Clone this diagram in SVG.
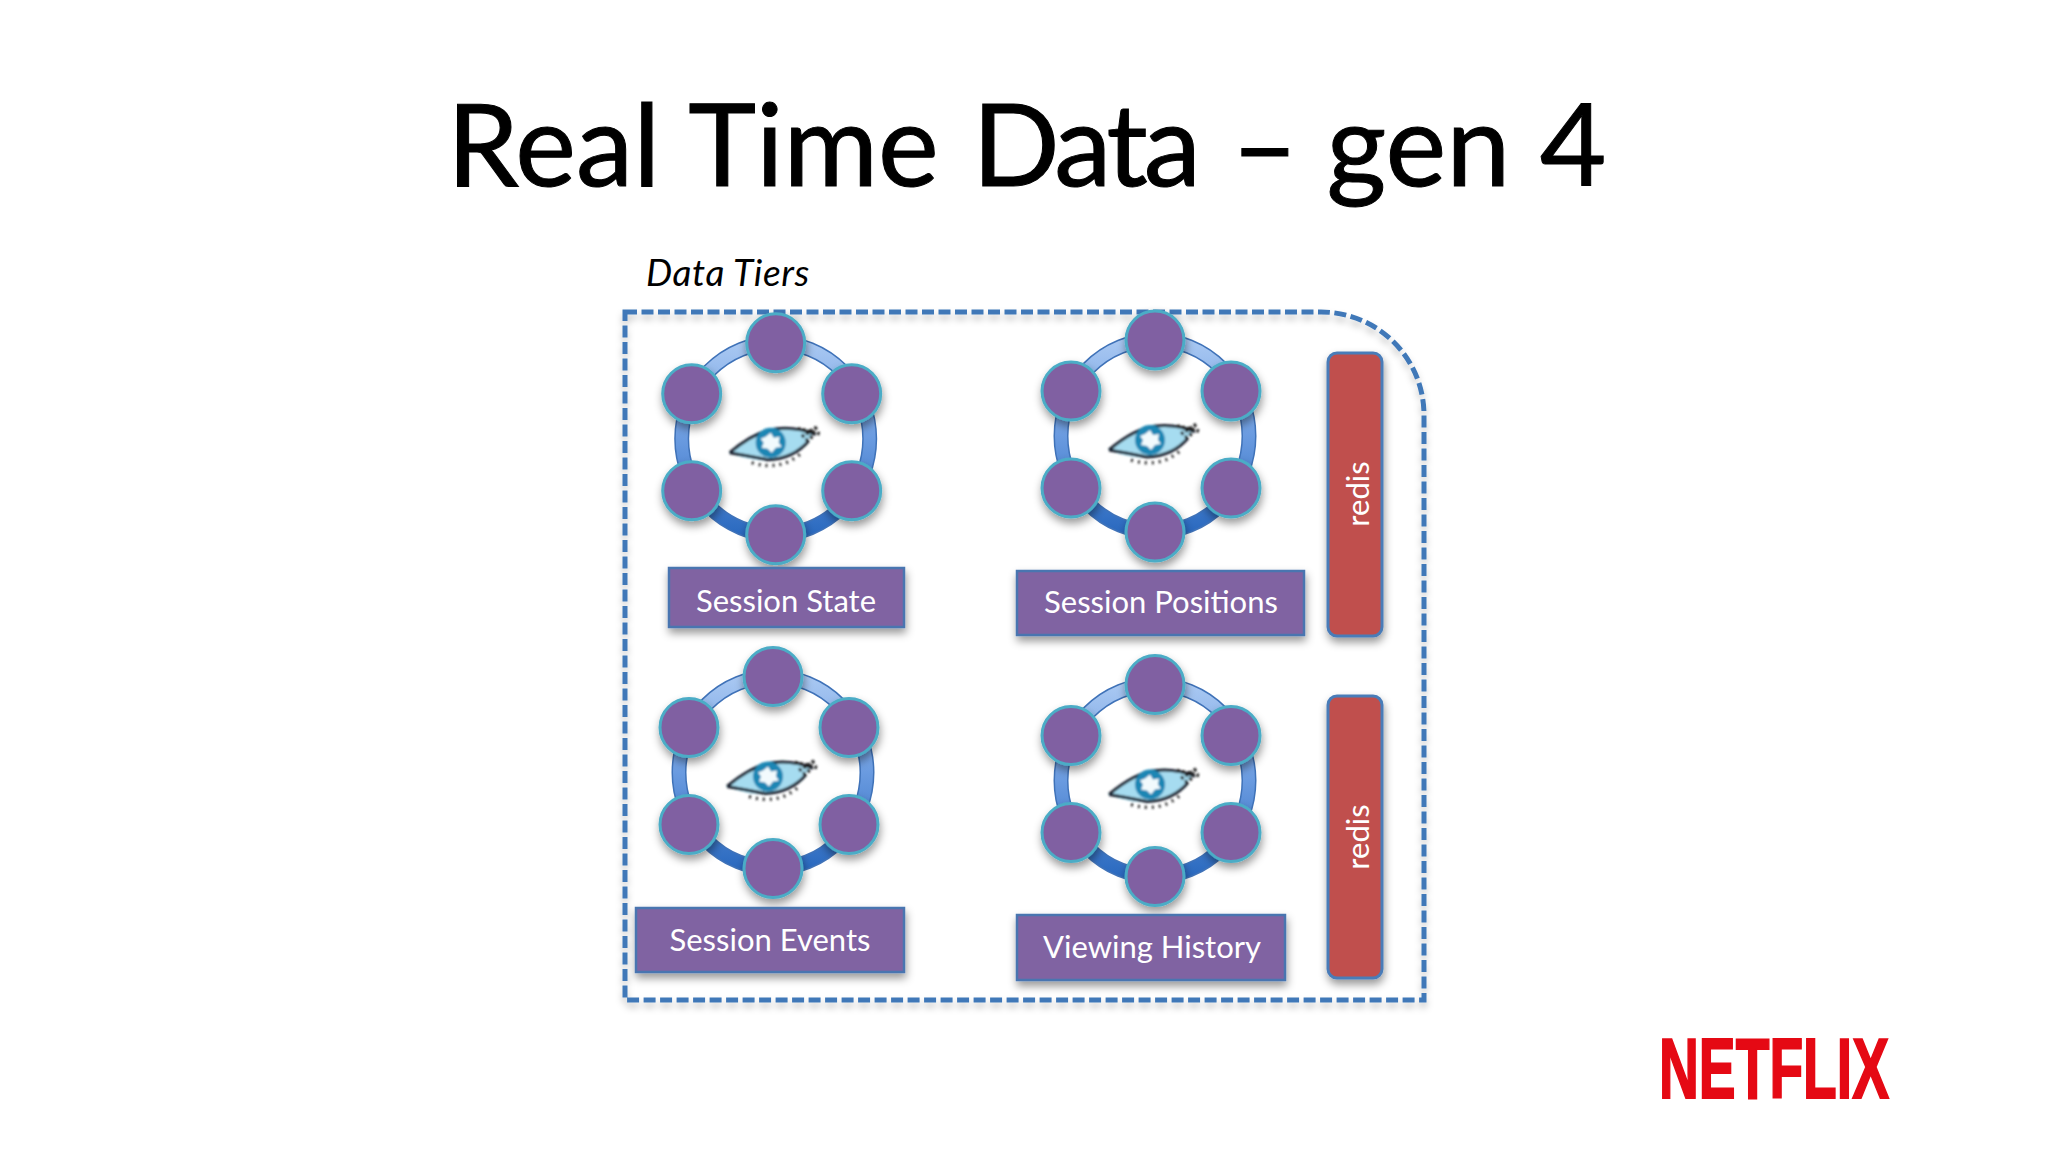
<svg xmlns="http://www.w3.org/2000/svg" xmlns:xlink="http://www.w3.org/1999/xlink" width="2048" height="1152" viewBox="0 0 2048 1152">
<style>
.t{font-family:"Lato","Open Sans","Liberation Sans",sans-serif;}
.lab{font-family:"Lato","Open Sans","Liberation Sans",sans-serif;font-size:31px;fill:#fff;text-anchor:middle;}
.box{fill:#8064a2;stroke:#4a74b0;stroke-width:2.5;filter:url(#sh);}
.red{fill:#c0504d;stroke:#4a7cb8;stroke-width:3;filter:url(#sh);}
.nd{fill:#8060a2;stroke:#4bacc6;stroke-width:3;filter:url(#sh);}
</style>
<defs>
<filter id="sh" x="-30%" y="-30%" width="160%" height="160%"><feDropShadow dx="1" dy="5" stdDeviation="4" flood-color="#000" flood-opacity="0.4"/></filter>
<filter id="fs" x="-5%" y="-5%" width="110%" height="110%"><feDropShadow dx="0" dy="5" stdDeviation="3.5" flood-color="#000" flood-opacity="0.22"/></filter>
<filter id="bl" x="-10%" y="-10%" width="120%" height="120%"><feGaussianBlur stdDeviation="0.8"/></filter>
<linearGradient id="rg" x1="0" y1="0" x2="0" y2="1"><stop offset="0" stop-color="#a9c8f2"/><stop offset="0.5" stop-color="#6a9be0"/><stop offset="1" stop-color="#2a69bf"/></linearGradient>
<g id="ring">
<ellipse rx="94" ry="96" fill="none" stroke="#3f72b8" stroke-width="15"/>
<ellipse rx="94" ry="96" fill="none" stroke="url(#rg)" stroke-width="12"/>
<g filter="url(#bl)">
<path d="M-47,14Q-20,-10 1,-11Q22,-12 37,-4Q15,22 -6,22Q-28,22 -47,14Z" fill="#a6dcf0"/>
<path d="M-46,14Q-20,-8 1,-10Q22,-12 40,-4" fill="none" stroke="#1c2430" stroke-width="3"/>
<path d="M-46,14Q-28,17 -8,21Q18,20 33,2" fill="none" stroke="#1c2430" stroke-width="3"/>
<path d="M-24,24Q5,33 26,14" fill="none" stroke="#333" stroke-width="3.5" stroke-dasharray="2 5"/>
<path d="M22,-10L44,-5M26,-2L42,-12M30,2L38,-3" fill="none" stroke="#222" stroke-width="3.5" stroke-dasharray="3 2"/>
<circle cx="-5" cy="4" r="15" fill="#1f86b4"/>
<path d="M-5,-6L-2,-1L4,-2L3,4L6,8L0,9L-4,14L-8,10L-14,9L-12,4L-15,0L-10,-2Z" fill="#f2fafd"/>
</g>
<circle class="nd" cx="0" cy="-96" r="29"/>
<circle class="nd" cx="-84" cy="-45" r="29"/>
<circle class="nd" cx="76" cy="-45" r="29"/>
<circle class="nd" cx="-84" cy="52" r="29"/>
<circle class="nd" cx="76" cy="52" r="29"/>
<circle class="nd" cx="0" cy="96" r="29"/>
</g>
</defs>
<rect width="2048" height="1152" fill="#fff"/>
<text class="t" x="447" y="186" font-size="115" fill="#000" stroke="#000" stroke-width="1" xml:space="preserve"><tspan>Real </tspan><tspan dx="2">Time </tspan><tspan dx="4" letter-spacing="-4">Data</tspan><tspan> </tspan><tspan dx="5">– </tspan><tspan dx="-1">gen </tspan><tspan dx="0">4</tspan></text>
<text class="t" x="646" y="286" font-size="37" font-style="italic" fill="#000" letter-spacing="0.6">Data Tiers</text>
<path id="data-tiers" d="M625,312H1321A103,103 0 0 1 1424,415V1000H625Z" fill="none" stroke="#3f78b8" stroke-width="5" stroke-dasharray="12 4.5" filter="url(#fs)"/>
<g id="connectors"/>
<g id="session-state"><use href="#ring" xlink:href="#ring" x="775.7" y="438.7"/><rect class="box" x="669" y="568" width="235" height="59"/><text class="lab" x="786" y="612">Session State</text></g>
<g id="session-positions"><use href="#ring" xlink:href="#ring" x="1155" y="436"/><rect class="box" x="1017" y="571" width="287" height="64"/><text class="lab" x="1161" y="613">Session Positions</text></g>
<g id="session-events"><use href="#ring" xlink:href="#ring" x="773" y="772.5"/><rect class="box" x="636" y="908" width="268" height="64"/><text class="lab" x="770" y="951">Session Events</text></g>
<g id="viewing-history"><use href="#ring" xlink:href="#ring" x="1155" y="780.5"/><rect class="box" x="1017" y="915" width="268" height="65"/><text class="lab" x="1152" y="958">Viewing History</text></g>
<g id="redis-1"><rect class="red" x="1328" y="353" width="54" height="283" rx="9"/><text class="lab" transform="translate(1369,494) rotate(-90)">redis</text></g>
<g id="redis-2"><rect class="red" x="1328" y="696" width="54" height="282" rx="9"/><text class="lab" transform="translate(1369,837) rotate(-90)">redis</text></g>
<g id="netflix"><text x="1659" y="1098" font-family="Liberation Sans,sans-serif" font-weight="700" font-size="86" fill="#e50914" stroke="#e50914" stroke-width="2" textLength="230" lengthAdjust="spacingAndGlyphs">NETFLIX</text></g>
</svg>
